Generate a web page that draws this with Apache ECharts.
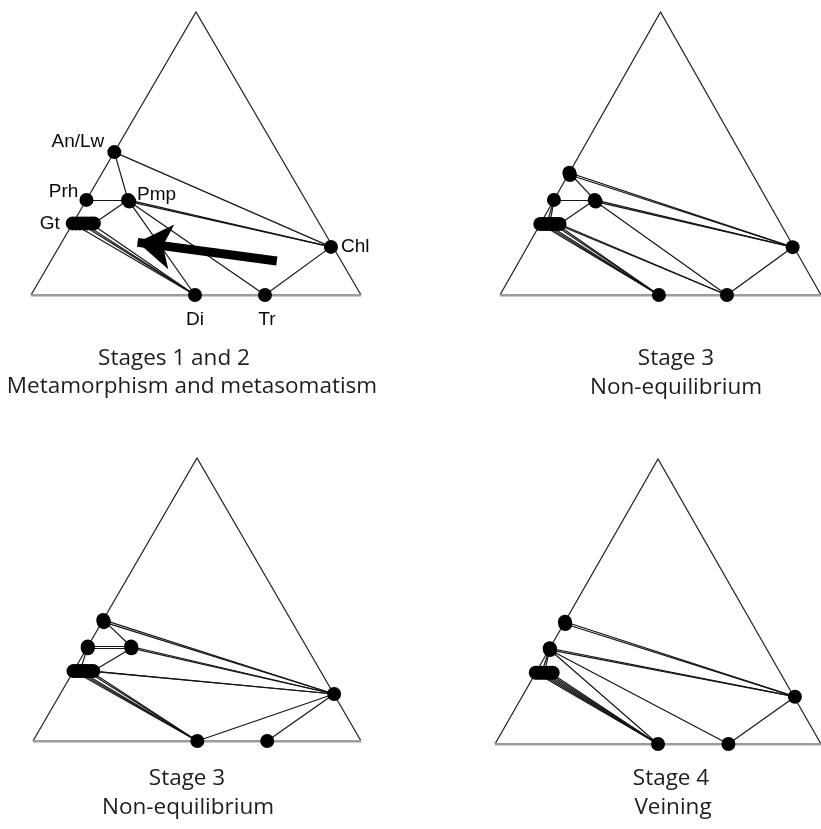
<!DOCTYPE html>
<html>
<head>
<meta charset="utf-8">
<script src="https://cdn.jsdelivr.net/npm/echarts@6/dist/echarts.min.js"></script>
<style>
  html, body { margin: 0; padding: 0; background: #ffffff; }
  #chart { width: 821px; height: 829px; }
</style>
</head>
<body>
<div id="chart"></div>
<script>
// Ternary compositions are written as [C, B]: C = fraction of the apex component,
// B = fraction of the lower-right component (A, the lower-left one, is 1 - B - C).
// A phase with several analyses lists one composition per analysis.

const triangleCorners = [[0, 0], [1, 0], [0, 1]]; // A (left), C (apex), B (right)

const stage12Phases = {
  'An/Lw': [[0.505, 0.0]],
  'Prh':   [[0.336, 0.0]],
  'Pmp':   [[0.336, 0.126], [0.330, 0.133]],
  'Gt':    [[0.253, 0.0], [0.253, 0.011], [0.253, 0.022], [0.253, 0.033], [0.253, 0.044], [0.253, 0.055], [0.253, 0.064]],
  'Chl':   [[0.170, 0.824]],
  'Di':    [[0.0, 0.497]],
  'Tr':    [[0.0, 0.709]]
};
const stage12Ties = [
  ['An/Lw', 0, 'Pmp', 0], ['An/Lw', 0, 'Chl', 0], ['Prh', 0, 'Pmp', 0],
  ['Pmp', 0, 'Gt', 6], ['Pmp', 0, 'Chl', 0], ['Pmp', 1, 'Chl', 0],
  ['Pmp', 0, 'Di', 0], ['Pmp', 1, 'Tr', 0],
  ['Gt', 0, 'Di', 0], ['Gt', 2, 'Di', 0], ['Gt', 3, 'Di', 0], ['Gt', 5, 'Di', 0],
  ['Chl', 0, 'Tr', 0]
];
// Reaction arrow (tail, head) in the same [C, B] coordinates
const stage12Arrow = [[0.120, 0.685], [0.186, 0.230]];

const stage3aPhases = {
  'An/Lw': [[0.432, 0.0], [0.424, 0.006]],
  'Prh':   [[0.336, 0.0]],
  'Pmp':   [[0.336, 0.127], [0.330, 0.133]],
  'Gt':    [[0.251, 0.0], [0.251, 0.010], [0.251, 0.020], [0.251, 0.030], [0.251, 0.040], [0.251, 0.050], [0.251, 0.060]],
  'Chl':   [[0.169, 0.827]],
  'Di':    [[0.0, 0.495]],
  'Tr':    [[0.0, 0.707]]
};
const stage3aTies = [
  ['An/Lw', 0, 'Pmp', 0], ['An/Lw', 0, 'Chl', 0], ['An/Lw', 1, 'Chl', 0],
  ['Prh', 0, 'Pmp', 0], ['Prh', 0, 'Gt', 2], ['Prh', 0, 'Gt', 3],
  ['Pmp', 0, 'Gt', 6], ['Pmp', 0, 'Chl', 0], ['Pmp', 1, 'Chl', 0], ['Pmp', 1, 'Tr', 0],
  ['Gt', 0, 'Di', 0], ['Gt', 1, 'Di', 0], ['Gt', 2, 'Di', 0], ['Gt', 4, 'Di', 0], ['Gt', 5, 'Di', 0],
  ['Gt', 5, 'Tr', 0], ['Gt', 6, 'Tr', 0],
  ['Chl', 0, 'Tr', 0]
];

const stage3bPhases = {
  'An/Lw': [[0.428, 0.0], [0.420, 0.006]],
  'Prh':   [[0.334, 0.0], [0.328, 0.003]],
  'Pmp':   [[0.334, 0.132], [0.328, 0.136]],
  'Gt':    [[0.247, 0.0], [0.247, 0.010], [0.247, 0.020], [0.247, 0.030], [0.247, 0.040], [0.247, 0.050], [0.247, 0.060]],
  'Chl':   [[0.166, 0.835]],
  'Di':    [[0.0, 0.501]],
  'Tr':    [[0.0, 0.714]]
};
const stage3bTies = [
  ['An/Lw', 0, 'Pmp', 0], ['An/Lw', 0, 'Chl', 0], ['An/Lw', 1, 'Chl', 0],
  ['Prh', 0, 'Pmp', 0], ['Prh', 1, 'Pmp', 1], ['Prh', 0, 'Gt', 2],
  ['Pmp', 1, 'Gt', 6], ['Pmp', 0, 'Chl', 0], ['Pmp', 1, 'Chl', 0],
  ['Gt', 6, 'Chl', 0], ['Gt', 5, 'Chl', 0],
  ['Gt', 0, 'Di', 0], ['Gt', 1, 'Di', 0], ['Gt', 2, 'Di', 0], ['Gt', 4, 'Di', 0], ['Gt', 5, 'Di', 0],
  ['Di', 0, 'Chl', 0], ['Tr', 0, 'Chl', 0]
];

const stage4Phases = {
  'An/Lw': [[0.429, 0.0], [0.421, 0.005]],
  'Prh':   [[0.336, 0.0], [0.330, 0.004]],
  'Gt':    [[0.250, 0.0], [0.250, 0.009], [0.250, 0.018], [0.250, 0.027], [0.250, 0.036], [0.250, 0.045], [0.250, 0.052]],
  'Chl':   [[0.166, 0.837]],
  'Di':    [[0.0, 0.500]],
  'Tr':    [[0.0, 0.716]]
};
const stage4Ties = [
  ['An/Lw', 0, 'Chl', 0], ['An/Lw', 1, 'Chl', 0],
  ['Prh', 0, 'Chl', 0], ['Prh', 1, 'Chl', 0], ['Prh', 1, 'Di', 0], ['Prh', 1, 'Tr', 0],
  ['Prh', 0, 'Gt', 2], ['Prh', 0, 'Gt', 3],
  ['Gt', 0, 'Di', 0], ['Gt', 1, 'Di', 0], ['Gt', 2, 'Di', 0], ['Gt', 3, 'Di', 0], ['Gt', 4, 'Di', 0], ['Gt', 5, 'Di', 0],
  ['Chl', 0, 'Tr', 0]
];

const panelTitles = [
  ['Stages 1 and 2', 'Metamorphism and metasomatism'],
  ['Stage 3', 'Non-equilibrium'],
  ['Stage 3', 'Non-equilibrium'],
  ['Stage 4', 'Veining']
];

// ---- layout and styling ----
const grids = [
  { left: 31,  top: 12,  width: 330, height: 283 },
  { left: 500, top: 12,  width: 330, height: 283 },
  { left: 33,  top: 458, width: 328, height: 283 },
  { left: 495, top: 459, width: 328, height: 285 }
];
const titlePos = [
  [[174, 359], [192, 387]],
  [[676, 359], [676, 388]],
  [[187, 779], [188, 808]],
  [[671, 779], [673, 808]]
];
// Label placement for the phase names in the first panel
const labelPlacement = {
  'An/Lw': { position: 'left',   offset: [2, -10] },
  'Prh':   { position: 'left',   offset: [4, -8] },
  'Pmp':   { position: 'right',  offset: [-3, -5] },
  'Gt':    { position: 'left',   offset: [-1, 0] },
  'Chl':   { position: 'right',  offset: [-2, 0] },
  'Di':    { position: 'bottom', offset: [0, 3] },
  'Tr':    { position: 'bottom', offset: [2, 3] }
};

const INK = '#151515';
const DOT = 14;

// ternary [C, B] -> plot coordinates (x along the base, y up towards the apex)
function toXY(cb) { return [cb[1] + cb[0] / 2, cb[0]]; }

const stages = [
  { phases: stage12Phases, ties: stage12Ties, arrow: stage12Arrow, labels: true },
  { phases: stage3aPhases, ties: stage3aTies },
  { phases: stage3bPhases, ties: stage3bTies },
  { phases: stage4Phases,  ties: stage4Ties }
];

const xAxis = [], yAxis = [], series = [];
stages.forEach(function (st, i) {
  xAxis.push({ gridIndex: i, type: 'value', min: 0, max: 1, show: false });
  yAxis.push({ gridIndex: i, type: 'value', min: 0, max: 1, show: false });

  const A = toXY(triangleCorners[0]), C = toXY(triangleCorners[1]), B = toXY(triangleCorners[2]);
  // triangle: two dark sides and a grey base
  series.push({
    type: 'lines', coordinateSystem: 'cartesian2d', xAxisIndex: i, yAxisIndex: i,
    polyline: true, silent: true, z: 1,
    lineStyle: { color: '#2a2a2a', width: 1.3, opacity: 1 },
    data: [{ coords: [A, C, B] }]
  });
  series.push({
    type: 'lines', coordinateSystem: 'cartesian2d', xAxisIndex: i, yAxisIndex: i,
    silent: true, z: 1,
    lineStyle: { color: '#9c9c9c', width: 3.2, opacity: 1 },
    data: [{ coords: [A, B] }]
  });

  // tie lines
  series.push({
    type: 'lines', coordinateSystem: 'cartesian2d', xAxisIndex: i, yAxisIndex: i,
    silent: true, z: 2,
    lineStyle: { color: INK, width: 1.2, opacity: 1 },
    data: st.ties.map(function (t) {
      return { coords: [toXY(st.phases[t[0]][t[1]]), toXY(st.phases[t[2]][t[3]])] };
    })
  });

  // reaction arrow
  if (st.arrow) {
    series.push({
      type: 'lines', coordinateSystem: 'cartesian2d', xAxisIndex: i, yAxisIndex: i,
      silent: true, z: 3,
      symbol: ['none', 'arrow'], symbolSize: [0, 34],
      lineStyle: { color: '#000', width: 9, opacity: 1, cap: 'butt' },
      itemStyle: { color: '#000' },
      data: [{ coords: st.arrow.map(toXY) }]
    });
  }

  // phase compositions
  const pts = [];
  Object.keys(st.phases).forEach(function (name) {
    st.phases[name].forEach(function (cb, k) {
      const item = { name: name, value: toXY(cb) };
      if (st.labels && k === 0 && labelPlacement[name]) {
        item.label = Object.assign({ show: true, formatter: name }, labelPlacement[name]);
      }
      pts.push(item);
    });
  });
  series.push({
    type: 'scatter', xAxisIndex: i, yAxisIndex: i, z: 4, silent: true,
    symbol: 'circle', symbolSize: DOT,
    itemStyle: { color: '#000', opacity: 1 },
    label: { show: false, color: '#0a0a0a', fontFamily: 'Liberation Sans', fontSize: 19, distance: 5 },
    data: pts
  });
});

const graphic = [];
panelTitles.forEach(function (lines, i) {
  lines.forEach(function (t, j) {
    graphic.push({
      type: 'text', x: titlePos[i][j][0], y: titlePos[i][j][1],
      style: {
        text: t, fill: '#1e1e1e', font: '22.5px "Open Sans"',
        textAlign: 'center', textVerticalAlign: 'middle'
      }
    });
  });
});

const chart = echarts.init(document.getElementById('chart'), null, { renderer: 'canvas' });
chart.setOption({
  backgroundColor: '#ffffff',
  animation: false,
  grid: grids,
  xAxis: xAxis,
  yAxis: yAxis,
  series: series,
  graphic: graphic
});
</script>
</body>
</html>
